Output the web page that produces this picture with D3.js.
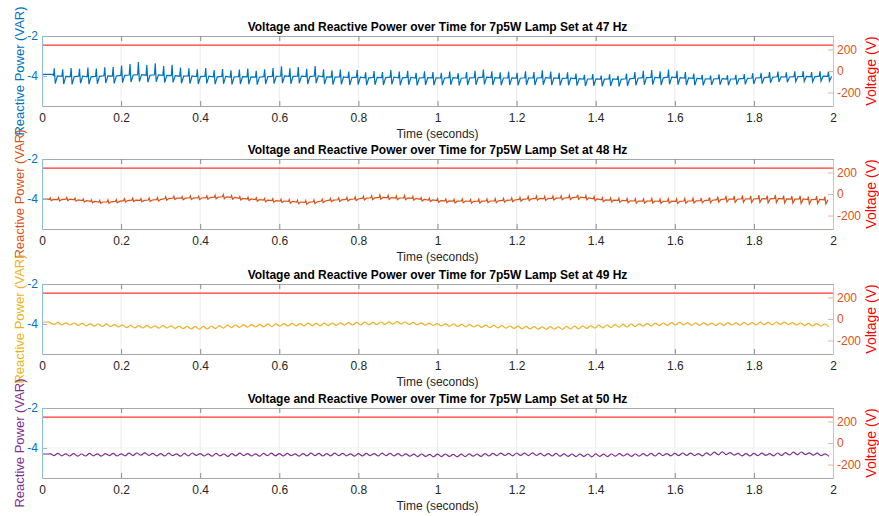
<!DOCTYPE html>
<html>
<head>
<meta charset="utf-8">
<script src="https://cdn.jsdelivr.net/npm/d3@7"></script>
<style>
  body { margin: 0; background: #fff; }
  svg text { font-family: "Liberation Sans", Arial, Helvetica, sans-serif; }
</style>
</head>
<body>
<div id="chart"></div>
<script>
// ---- data ----
const timeLimits = [0, 2];
const xTicks = [0, 0.2, 0.4, 0.6, 0.8, 1, 1.2, 1.4, 1.6, 1.8, 2];
const leftLimits = [-5.5, -2];
const leftTicks = [-4, -2];
const rightLimits = [-325, 325];
const rightTicks = [-200, 0, 200];

const lampFreqs = [47, 48, 49, 50];
const seriesColors = ["#0072BD", "#D95319", "#EDB120", "#7E2F8E"];

// flat voltage trace (V), drawn between the two time limits
const voltTime = [0, 2];
const voltLevel = [240, 240];

// flat start of each reactive power trace, then the ripple cycles
const qStart = [-3.92, -4.01, -3.90, -4.30];
const cycleStart = [0.03, 0.02, 0.02, 0.02];
const rippleHz = [47, 48, 49, 50];

// 47 Hz: per cycle [base, spike top, dip]
const react47 = [
  -4.00,-3.62,-4.38, -4.02,-3.66,-4.40, -4.03,-3.60,-4.42, -4.01,-3.64,-4.36, -4.04,-3.58,-4.41,
  -4.02,-3.63,-4.39, -3.99,-3.57,-4.35, -4.00,-3.55,-4.37, -3.97,-3.48,-4.33, -3.95,-3.40,-4.30,
  -3.93,-3.30,-4.28, -3.96,-3.45,-4.31, -3.94,-3.36,-4.29, -3.97,-3.50,-4.33, -3.98,-3.44,-4.32,
  -4.01,-3.58,-4.36, -4.00,-3.62,-4.38, -4.03,-3.66,-4.40, -4.01,-3.60,-4.37, -4.04,-3.70,-4.41,
  -4.02,-3.65,-4.39, -4.05,-3.72,-4.42, -4.03,-3.68,-4.40, -4.04,-3.63,-4.41, -4.06,-3.74,-4.43,
  -4.03,-3.66,-4.40, -4.02,-3.60,-4.38, -4.00,-3.52,-4.36, -4.02,-3.62,-4.39, -4.01,-3.55,-4.37,
  -4.03,-3.64,-4.40, -4.00,-3.50,-4.36, -4.04,-3.66,-4.41, -4.06,-3.72,-4.43, -4.05,-3.68,-4.42,
  -4.08,-3.78,-4.45, -4.06,-3.70,-4.43, -4.09,-3.82,-4.46, -4.07,-3.75,-4.44, -4.08,-3.80,-4.45,
  -4.06,-3.70,-4.42, -4.09,-3.78,-4.46, -4.07,-3.74,-4.44, -4.10,-3.84,-4.47, -4.08,-3.76,-4.45,
  -4.09,-3.80,-4.46, -4.10,-3.84,-4.46, -4.08,-3.78,-4.44, -4.11,-3.86,-4.47, -4.09,-3.80,-4.45,
  -4.08,-3.74,-4.44, -4.06,-3.68,-4.42, -4.08,-3.76,-4.45, -4.10,-3.82,-4.46, -4.09,-3.78,-4.45,
  -4.11,-3.84,-4.47, -4.09,-3.76,-4.44, -4.10,-3.80,-4.46, -4.08,-3.72,-4.44, -4.10,-3.78,-4.46,
  -4.12,-3.84,-4.47, -4.11,-3.82,-4.46, -4.13,-3.88,-4.48, -4.15,-3.94,-4.50, -4.14,-3.90,-4.49,
  -4.16,-3.98,-4.51, -4.15,-3.92,-4.50, -4.17,-4.00,-4.52, -4.14,-3.88,-4.49, -4.11,-3.80,-4.46,
  -4.08,-3.74,-4.44, -4.07,-3.70,-4.43, -4.09,-3.76,-4.45, -4.06,-3.68,-4.42, -4.08,-3.74,-4.44,
  -4.10,-3.80,-4.45, -4.12,-3.88,-4.46, -4.14,-3.94,-4.47, -4.15,-3.98,-4.45, -4.13,-3.92,-4.44,
  -4.15,-3.96,-4.46, -4.14,-3.94,-4.43, -4.12,-3.90,-4.42, -4.10,-3.86,-4.40, -4.08,-3.84,-4.38,
  -4.06,-3.80,-4.34, -4.04,-3.78,-4.30, -4.05,-3.82,-4.31, -4.03,-3.77,-4.28, -4.02,-3.76,-4.27,
  -4.04,-3.80,-4.29, -4.01,-3.76,-4.26, -4.02,-3.78,-4.25
];

// 48 Hz: per cycle [base, spike top, dip]
const react48 = [
  -4.02,-3.95,-4.08, -4.03,-3.93,-4.10, -4.01,-3.92,-4.08, -4.04,-3.96,-4.11, -4.08,-4.00,-4.15,
  -4.12,-4.04,-4.19, -4.15,-4.07,-4.22, -4.14,-4.05,-4.21, -4.12,-4.03,-4.19, -4.08,-3.99,-4.15,
  -4.06,-3.96,-4.13, -4.07,-3.98,-4.14, -4.05,-3.95,-4.12, -4.03,-3.93,-4.10, -3.98,-3.88,-4.06,
  -3.95,-3.86,-4.03, -3.96,-3.87,-4.04, -3.94,-3.85,-4.02, -3.95,-3.86,-4.03, -3.93,-3.84,-4.01,
  -3.91,-3.81,-3.99, -3.89,-3.78,-3.98, -3.92,-3.83,-4.01, -3.97,-3.88,-4.05, -4.00,-3.91,-4.08,
  -4.03,-3.94,-4.11, -4.06,-3.97,-4.14, -4.08,-3.99,-4.16, -4.10,-4.01,-4.18, -4.12,-4.03,-4.21,
  -4.15,-4.06,-4.24, -4.17,-4.08,-4.27, -4.14,-4.05,-4.23, -4.10,-4.01,-4.19, -4.06,-3.97,-4.14,
  -4.04,-3.95,-4.12, -4.02,-3.92,-4.10, -4.00,-3.90,-4.08, -3.96,-3.86,-4.05, -3.94,-3.84,-4.03,
  -3.92,-3.80,-4.01, -3.93,-3.82,-4.02, -3.95,-3.85,-4.04, -3.94,-3.83,-4.03, -3.97,-3.87,-4.06,
  -4.02,-3.93,-4.10, -4.05,-3.96,-4.13, -4.08,-3.99,-4.16, -4.09,-4.00,-4.18, -4.11,-4.02,-4.20,
  -4.10,-4.00,-4.19, -4.12,-4.03,-4.21, -4.11,-4.01,-4.20, -4.10,-4.00,-4.19, -4.09,-3.99,-4.18,
  -4.07,-3.97,-4.16, -4.05,-3.95,-4.14, -4.02,-3.92,-4.11, -3.99,-3.88,-4.08, -3.97,-3.86,-4.06,
  -3.98,-3.87,-4.07, -3.96,-3.85,-4.05, -3.95,-3.84,-4.04, -3.93,-3.81,-4.03, -3.91,-3.78,-4.02,
  -3.94,-3.82,-4.04, -3.99,-3.88,-4.08, -4.04,-3.94,-4.13, -4.06,-3.95,-4.15, -4.07,-3.96,-4.17,
  -4.09,-3.98,-4.19, -4.10,-3.99,-4.20, -4.11,-4.00,-4.21, -4.10,-3.98,-4.20, -4.12,-4.01,-4.22,
  -4.11,-3.99,-4.21, -4.12,-4.00,-4.22, -4.10,-3.98,-4.21, -4.09,-3.97,-4.20, -4.08,-3.95,-4.19,
  -4.06,-3.92,-4.18, -4.03,-3.88,-4.16, -4.00,-3.84,-4.15, -4.01,-3.85,-4.17, -3.99,-3.82,-4.16,
  -4.00,-3.84,-4.18, -3.98,-3.81,-4.17, -3.99,-3.83,-4.19, -3.97,-3.80,-4.18, -3.99,-3.83,-4.20,
  -4.01,-3.85,-4.21, -4.00,-3.84,-4.22, -4.03,-3.88,-4.24, -4.02,-3.86,-4.23, -4.04,-3.88,-4.25
];

// 49 Hz: per cycle [crest, trough]
const react49 = [
  -3.92,-4.02, -3.93,-4.04, -3.94,-4.05, -3.95,-4.07, -3.97,-4.09, -3.99,-4.11, -4.00,-4.12,
  -4.01,-4.13, -4.03,-4.15, -4.06,-4.18, -4.07,-4.19, -4.08,-4.20, -4.07,-4.20, -4.09,-4.21,
  -4.08,-4.20, -4.09,-4.22, -4.11,-4.23, -4.12,-4.25, -4.13,-4.26, -4.12,-4.25, -4.10,-4.23,
  -4.08,-4.21, -4.06,-4.18, -4.05,-4.17, -4.04,-4.16, -4.03,-4.15, -4.03,-4.14, -4.01,-4.13,
  -3.99,-4.11, -3.98,-4.10, -3.97,-4.09, -3.98,-4.09, -3.96,-4.08, -3.97,-4.09, -3.96,-4.08,
  -3.95,-4.07, -3.94,-4.06, -3.93,-4.05, -3.92,-4.04, -3.91,-4.03, -3.92,-4.03, -3.90,-4.02,
  -3.89,-4.01, -3.88,-4.00, -3.90,-4.02, -3.92,-4.04, -3.94,-4.06, -3.96,-4.08, -3.98,-4.10,
  -3.99,-4.11, -4.00,-4.12, -4.02,-4.14, -4.03,-4.15, -4.05,-4.17, -4.06,-4.18, -4.07,-4.19,
  -4.08,-4.21, -4.10,-4.22, -4.11,-4.24, -4.12,-4.25, -4.13,-4.26, -4.14,-4.27, -4.13,-4.26,
  -4.14,-4.27, -4.12,-4.25, -4.11,-4.24, -4.09,-4.22, -4.08,-4.21, -4.06,-4.19, -4.05,-4.18,
  -4.03,-4.16, -4.02,-4.15, -4.00,-4.13, -3.99,-4.11, -3.98,-4.10, -3.96,-4.08, -3.95,-4.07,
  -3.93,-4.05, -3.92,-4.04, -3.94,-4.06, -3.95,-4.07, -3.94,-4.06, -3.96,-4.08, -3.95,-4.07,
  -3.93,-4.05, -3.94,-4.06, -3.92,-4.04, -3.93,-4.05, -3.91,-4.03, -3.92,-4.04, -3.90,-4.02,
  -3.91,-4.03, -3.93,-4.05, -3.95,-4.08, -3.97,-4.10, -3.98,-4.11, -4.00,-4.13
];

// 50 Hz: per cycle [crest, trough]
const react50 = [
  -4.28,-4.38, -4.27,-4.39, -4.29,-4.40, -4.28,-4.41, -4.30,-4.40, -4.27,-4.39, -4.29,-4.41,
  -4.28,-4.38, -4.27,-4.40, -4.29,-4.39, -4.26,-4.38, -4.25,-4.36, -4.24,-4.37, -4.27,-4.39,
  -4.28,-4.40, -4.26,-4.38, -4.29,-4.41, -4.27,-4.39, -4.25,-4.37, -4.28,-4.40, -4.29,-4.41,
  -4.27,-4.39, -4.30,-4.42, -4.28,-4.39, -4.26,-4.38, -4.28,-4.40, -4.29,-4.41, -4.27,-4.38,
  -4.26,-4.39, -4.28,-4.40, -4.27,-4.38, -4.29,-4.41, -4.28,-4.39, -4.26,-4.38, -4.27,-4.40,
  -4.28,-4.39, -4.26,-4.38, -4.27,-4.39, -4.29,-4.41, -4.28,-4.40, -4.27,-4.38, -4.28,-4.40,
  -4.26,-4.38, -4.27,-4.39, -4.28,-4.40, -4.29,-4.41, -4.31,-4.43, -4.30,-4.42, -4.32,-4.44,
  -4.31,-4.43, -4.30,-4.42, -4.32,-4.44, -4.31,-4.43, -4.29,-4.41, -4.30,-4.42, -4.28,-4.40,
  -4.27,-4.38, -4.26,-4.37, -4.27,-4.39, -4.25,-4.37, -4.26,-4.38, -4.24,-4.37, -4.27,-4.39,
  -4.28,-4.40, -4.27,-4.41, -4.29,-4.42, -4.30,-4.43, -4.31,-4.42, -4.30,-4.44, -4.29,-4.42,
  -4.31,-4.43, -4.30,-4.41, -4.28,-4.40, -4.29,-4.42, -4.30,-4.41, -4.28,-4.39, -4.27,-4.40,
  -4.26,-4.38, -4.28,-4.39, -4.27,-4.38, -4.25,-4.37, -4.26,-4.38, -4.28,-4.39, -4.24,-4.36,
  -4.21,-4.34, -4.19,-4.33, -4.23,-4.36, -4.27,-4.39, -4.28,-4.40, -4.27,-4.38, -4.26,-4.37,
  -4.28,-4.39, -4.25,-4.37, -4.23,-4.35, -4.21,-4.34, -4.20,-4.33, -4.24,-4.36, -4.26,-4.38,
  -4.29,-4.42
];

const reactSeries = [react47, react48, react49, react50];
const spiky = [true, true, false, false];

// ---- layout ----
const W = 879, H = 516;
const plotLeft = 42, plotRight = 833, plotH = 70;
const panelTops = [36, 159, 284, 408];
const textColor = "#262626";
const frameColor = "#a6a6a6";
const fontFam = '"Liberation Sans", Arial, Helvetica, sans-serif';

const svg = d3.select("#chart").append("svg")
  .attr("width", W)
  .attr("height", H)
  .style("background", "#fff");

const x = d3.scaleLinear().domain(timeLimits).range([plotLeft, plotRight]);

function buildPoints(k) {
  const vals = reactSeries[k], f = rippleHz[k], t0 = cycleStart[k];
  let pts = [[0, qStart[k]], [t0 - 0.002, qStart[k]]];
  if (spiky[k]) {
    for (let i = 0; i * 3 < vals.length; i++) {
      let t = t0 + i / f;
      let b = vals[3 * i], p = vals[3 * i + 1], l = vals[3 * i + 2];
      pts.push([t - 0.001, b], [t + 0.001, p], [t + 0.0035, l], [t + 0.009, b]);
    }
  } else {
    for (let i = 0; i * 2 < vals.length; i++) {
      let t = t0 + i / f;
      pts.push([t, vals[2 * i]], [t + 0.5 / f, vals[2 * i + 1]]);
    }
  }
  return pts;
}

lampFreqs.forEach(function(freq, k) {
  const top = panelTops[k];
  const yL = d3.scaleLinear().domain(leftLimits).range([top + plotH, top]);
  const yR = d3.scaleLinear().domain(rightLimits).range([top + plotH, top]);
  const g = svg.append("g");

  // grid
  g.selectAll(".vgrid").data(xTicks.slice(1, -1)).join("line")
    .attr("x1", d => x(d)).attr("x2", d => x(d))
    .attr("y1", top).attr("y2", top + plotH)
    .attr("stroke", "#ebebeb").attr("stroke-width", 1);
  g.selectAll(".hgrid").data(leftTicks.slice(0, 1)).join("line")
    .attr("x1", plotLeft).attr("x2", plotRight)
    .attr("y1", d => yL(d)).attr("y2", d => yL(d))
    .attr("stroke", "#edf1f4").attr("stroke-width", 1);

  // voltage (right axis)
  const vLine = d3.line().x(d => x(d[0])).y(d => yR(d[1]));
  g.append("path")
    .datum(voltTime.map((t, i) => [t, voltLevel[i]]))
    .attr("d", vLine)
    .attr("fill", "none")
    .attr("stroke", "#ff0000")
    .attr("stroke-opacity", 0.8)
    .attr("stroke-width", 1.3);

  // reactive power (left axis)
  const qLine = d3.line()
    .x(d => x(d[0])).y(d => yL(d[1]))
    .curve(spiky[k] ? d3.curveLinear : d3.curveMonotoneX);
  g.append("path")
    .datum(buildPoints(k))
    .attr("d", qLine)
    .attr("fill", "none")
    .attr("stroke", seriesColors[k])
    .attr("stroke-width", 1.2);

  // x axis bottom
  const xb = g.append("g")
    .attr("transform", `translate(0,${top + plotH})`)
    .call(d3.axisBottom(x).tickValues(xTicks).tickSizeInner(-5).tickSizeOuter(0)
      .tickPadding(7).tickFormat(d => String(d)));
  xb.attr("font-family", fontFam).attr("font-size", 12);
  xb.select(".domain").attr("stroke", frameColor);
  xb.selectAll(".tick line").attr("stroke", "#8c8c8c");
  xb.selectAll(".tick text").attr("fill", textColor);

  // top frame with ticks
  const xt = g.append("g")
    .attr("transform", `translate(0,${top})`)
    .call(d3.axisTop(x).tickValues(xTicks).tickSizeInner(-5).tickSizeOuter(0).tickFormat(""));
  xt.select(".domain").attr("stroke", frameColor);
  xt.selectAll(".tick line").attr("stroke", "#8c8c8c");

  // left axis
  const yl = g.append("g")
    .attr("transform", `translate(${plotLeft},0)`)
    .call(d3.axisLeft(yL).tickValues(leftTicks).tickSizeInner(-5).tickSizeOuter(0)
      .tickPadding(4).tickFormat(d => String(d)));
  yl.attr("font-family", fontFam).attr("font-size", 12);
  yl.select(".domain").attr("stroke", "#8dbbdc");
  yl.selectAll(".tick line").attr("stroke", "#8dbbdc");
  yl.selectAll(".tick text").attr("fill", "#0072BD");

  // right axis
  const yr = g.append("g")
    .attr("transform", `translate(${plotRight},0)`)
    .call(d3.axisRight(yR).tickValues(rightTicks).tickSizeInner(-5).tickSizeOuter(0)
      .tickPadding(4).tickFormat(d => String(d)));
  yr.attr("font-family", fontFam).attr("font-size", 12);
  yr.select(".domain").attr("stroke", "#d9bfb2");
  yr.selectAll(".tick line").attr("stroke", "#e8b59c");
  yr.selectAll(".tick text").attr("fill", "#D95319");

  // title
  g.append("text")
    .attr("x", (plotLeft + plotRight) / 2)
    .attr("y", top - 5)
    .attr("text-anchor", "middle")
    .attr("font-weight", "bold")
    .attr("font-size", 12)
    .attr("fill", "#000")
    .text(`Voltage and Reactive Power over Time for 7p5W Lamp Set at ${freq} Hz`);

  // x label
  g.append("text")
    .attr("x", (plotLeft + plotRight) / 2)
    .attr("y", top + plotH + 31.5)
    .attr("text-anchor", "middle")
    .attr("font-size", 12)
    .attr("fill", textColor)
    .text("Time (seconds)");

  // y labels
  g.append("text")
    .attr("transform", `translate(24,${top + plotH / 2}) rotate(-90)`)
    .attr("text-anchor", "middle")
    .attr("font-size", 13)
    .attr("fill", seriesColors[k])
    .text("Reactive Power (VAR)");

  g.append("text")
    .attr("transform", `translate(876,${top + plotH / 2}) rotate(-90)`)
    .attr("text-anchor", "middle")
    .attr("font-size", 14)
    .attr("fill", "#ff0000")
    .text("Voltage (V)");
});
</script>
</body>
</html>
